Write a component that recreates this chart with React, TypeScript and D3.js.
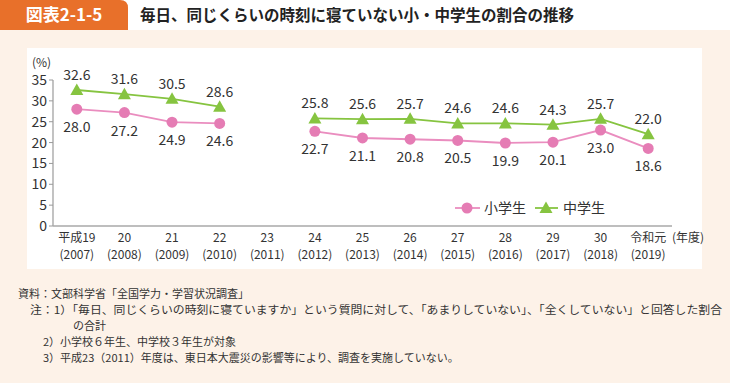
import React from "react";
import * as d3 from "d3";

const categories = ["平成19", "20", "21", "22", "23", "24", "25", "26", "27", "28", "29", "30", "令和元"];
const years = ["(2007)", "(2008)", "(2009)", "(2010)", "(2011)", "(2012)", "(2013)", "(2014)", "(2015)", "(2016)", "(2017)", "(2018)", "(2019)"];
const elementary: (number | null)[] = [28.0, 27.2, 24.9, 24.6, null, 22.7, 21.1, 20.8, 20.5, 19.9, 20.1, 23.0, 18.6];
const juniorHigh: (number | null)[] = [32.6, 31.6, 30.5, 28.6, null, 25.8, 25.6, 25.7, 24.6, 24.6, 24.3, 25.7, 22.0];
const yTicks = [0, 5, 10, 15, 20, 25, 30, 35];
const notes = [
  "資料：文部科学省「全国学力・学習状況調査」",
  "注：1）「毎日、同じくらいの時刻に寝ていますか」という質問に対して、「あまりしていない」、「全くしていない」と回答した割合",
  "の合計",
  "2）小学校６年生、中学校３年生が対象",
  "3）平成23（2011）年度は、東日本大震災の影響等により、調査を実施していない。",
];

const PINK = "#e57cb4";
const PINK_LINE = "#ea8dbf";
const GREEN = "#86c440";
const TEXT = "#333";
const FONT = "'Noto Sans CJK JP', 'Noto Sans', sans-serif";

export default function App() {
  const x = d3.scaleBand<string>().domain(categories).range([53, 672]);
  const cx = (i: number) => (x(categories[i]) as number) + x.bandwidth() / 2;
  const y = d3.scaleLinear().domain([0, 35]).range([226, 80]);

  const line = d3
    .line<number | null>()
    .defined((d) => d !== null)
    .x((_, i) => cx(i))
    .y((d) => y(d as number));

  const tri = (px: number, py: number) =>
    `M${px},${py - 6.5}L${px + 6.5},${py + 5}L${px - 6.5},${py + 5}Z`;

  const noteX = [18, 30, 73, 43, 43];
  const noteY = [294, 310, 326, 342, 358];

  return (
    <svg width={730} height={383} style={{ display: "block", position: "absolute", left: 0, top: 0 }} fontFamily={FONT}>
      <rect x={0} y={0} width={730} height={383} fill="#fdf2e8" />
      <rect x={0} y={0} width={730} height={30} fill="#ffffff" />
      <path d="M0,0H120Q128,0 128,8V30H0Z" fill="#e8702a" />
      <text x={64} y={21} fill="#fff" fontSize={17} fontWeight={700} textAnchor="middle">図表2-1-5</text>
      <text x={140} y={21} fill="#222" fontSize={15.5} fontWeight={700}>毎日、同じくらいの時刻に寝ていない小・中学生の割合の推移</text>

      <rect x={27} y={48} width={675} height={221} fill="#ffffff" />

      {/* y axis */}
      <line x1={53} x2={53} y1={y(35)} y2={y(0)} stroke="#9a9a9a" strokeWidth={1.2} />
      {yTicks.map((t) => (
        <g key={t}>
          <line x1={49} x2={53} y1={y(t)} y2={y(t)} stroke="#9a9a9a" strokeWidth={1} />
          <text x={47} y={y(t) + 5} fontSize={14} fill={TEXT} textAnchor="end">{t}</text>
        </g>
      ))}
      <text x={32} y={67} fontSize={12} fill={TEXT}>(%)</text>

      {/* x axis */}
      <line x1={53} x2={672} y1={y(0)} y2={y(0)} stroke="#a8a8a8" strokeWidth={1.6} />
      {categories.map((c, i) => (
        <g key={c}>
          <text x={cx(i)} y={242} fontSize={12} fill={TEXT} textAnchor="middle">{c}</text>
          <text x={cx(i)} y={259} fontSize={12} fill={TEXT} textAnchor="middle">{years[i]}</text>
        </g>
      ))}
      <text x={672} y={242} fontSize={12} fill={TEXT}>(年度)</text>

      {/* lines */}
      <path d={line(juniorHigh) || ""} fill="none" stroke={GREEN} strokeWidth={1.8} />
      <path d={line(elementary) || ""} fill="none" stroke={PINK_LINE} strokeWidth={1.8} />

      {juniorHigh.map((v, i) =>
        v === null ? null : (
          <g key={"j" + i}>
            <path d={tri(cx(i), y(v))} fill={GREEN} />
            <text x={cx(i)} y={y(v) - 10} fontSize={14} fill={TEXT} textAnchor="middle">{v.toFixed(1)}</text>
          </g>
        )
      )}
      {elementary.map((v, i) =>
        v === null ? null : (
          <g key={"e" + i}>
            <circle cx={cx(i)} cy={y(v)} r={5.5} fill={PINK} />
            <text x={cx(i)} y={y(v) + 23} fontSize={14} fill={TEXT} textAnchor="middle">{v.toFixed(1)}</text>
          </g>
        )
      )}

      {/* legend */}
      <line x1={455} x2={480} y1={208} y2={208} stroke={PINK_LINE} strokeWidth={1.8} />
      <circle cx={467} cy={208} r={5.5} fill={PINK} />
      <text x={484} y={213} fontSize={14} fill={TEXT}>小学生</text>
      <line x1={535} x2={558} y1={208} y2={208} stroke={GREEN} strokeWidth={1.8} />
      <path d={tri(546, 208)} fill={GREEN} />
      <text x={563} y={213} fontSize={14} fill={TEXT}>中学生</text>

      {/* notes */}
      {notes.map((n, i) => (
        <text
          key={i}
          x={noteX[i]}
          y={noteY[i] + 4}
          fontSize={11}
          fill={TEXT}
          {...(i === 1 ? { textLength: 692, lengthAdjust: "spacingAndGlyphs" } : {})}
        >
          {n}
        </text>
      ))}
    </svg>
  );
}
